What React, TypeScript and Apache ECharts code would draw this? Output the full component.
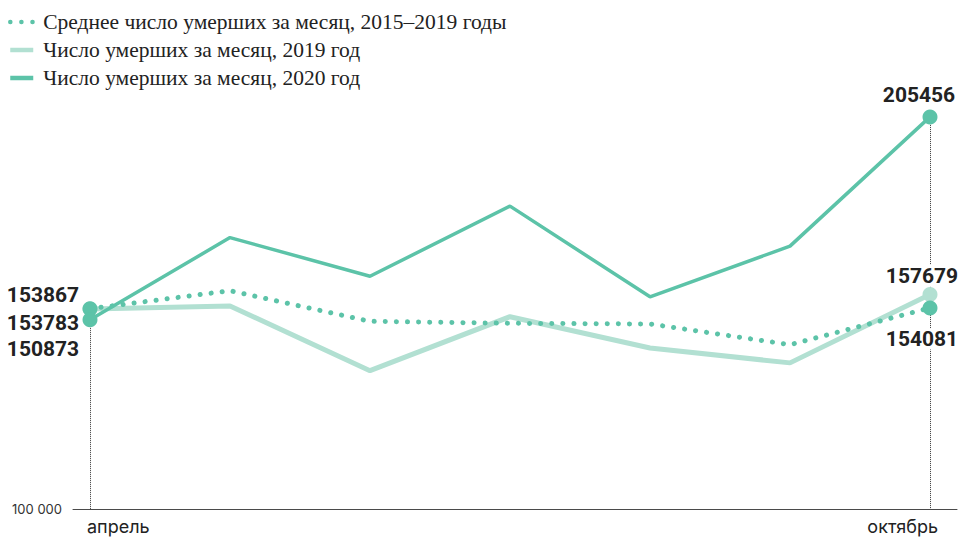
import React, { useEffect, useRef } from "react";
import * as echarts from "echarts";

const months = ["апрель", "май", "июнь", "июль", "август", "сентябрь", "октябрь"];
const avg2015to2019 = [153867, 158710, 150480, 149940, 149760, 144190, 154081];
const deaths2019 = [153783, 154600, 137200, 151720, 143300, 139300, 157679];
const deaths2020 = [150873, 173000, 162600, 181450, 157070, 170700, 205456];
const yTickLabels = ["100 000"];
const seriesNames = [
  "Среднее число умерших за месяц, 2015–2019 годы",
  "Число умерших за месяц, 2019 год",
  "Число умерших за месяц, 2020 год",
];

const DARK = "#5cc3a8";
const LIGHT = "#b2e0d2";
const TEXT = "#222222";
const Y_MIN = 100000;

const labelStyle = {
  fontFamily: "Roboto",
  fontWeight: 700,
  fontSize: 21,
  color: TEXT,
  position: "inside",
  backgroundColor: "#ffffff",
  padding: [0, 2],
};

function buildData(values: number[], color: string, offsets: [number, number][]) {
  const last = values.length - 1;
  return values.map((v, i) => {
    if (i === 0 || i === last) {
      const off = i === 0 ? offsets[0] : offsets[1];
      return {
        value: [i, v],
        symbol: "circle",
        symbolSize: 15,
        itemStyle: { color },
        label: { show: true, ...labelStyle, offset: off, formatter: String(v) },
      };
    }
    return { value: [i, v] };
  });
}

export default function App() {
  const ref = useRef<HTMLDivElement>(null);
  useEffect(() => {
    document.body.style.margin = "0";
    const chart = echarts.init(ref.current!, null, { renderer: "svg" });
    const last = months.length - 1;
    chart.setOption({
      animation: false,
      backgroundColor: "#ffffff",
      legend: {
        data: seriesNames,
        orient: "vertical",
        left: 8,
        top: 11,
        padding: 0,
        itemWidth: 23,
        itemHeight: 14,
        itemGap: 6,
        itemStyle: { opacity: 0 },
        lineStyle: { width: 4.5 },
        textStyle: {
          fontFamily: "'Liberation Serif', serif",
          fontSize: 21.5,
          color: TEXT,
          padding: [0, 0, 0, 5],
        },
        selectedMode: false,
      },
      grid: { left: 73, right: 16, top: 100, bottom: 30 },
      xAxis: [
        {
          type: "value",
          min: -17 / 140,
          max: 6 + 27 / 140,
          position: "bottom",
          axisLine: { show: true, lineStyle: { color: "#4a4a4a", width: 1 } },
          axisTick: { show: false },
          splitLine: { show: false },
          axisLabel: {
            customValues: [0],
            formatter: (v: number) => months[Math.round(v)],
            align: "left",
            margin: 8,
            padding: [0, 0, 0, -3],
            fontFamily: "Inter",
            fontSize: 18,
            color: TEXT,
          },
        },
        {
          type: "value",
          min: -17 / 140,
          max: 6 + 27 / 140,
          position: "bottom",
          axisLine: { show: false },
          axisTick: { show: false },
          splitLine: { show: false },
          axisLabel: {
            customValues: [last],
            formatter: (v: number) => months[Math.round(v)],
            align: "right",
            margin: 8,
            padding: [0, -8, 0, 0],
            fontFamily: "Inter",
            fontSize: 18,
            color: TEXT,
          },
        },
      ],
      yAxis: {
        type: "value",
        min: Y_MIN,
        max: 210000,
        axisLine: { show: false },
        axisTick: { show: false },
        splitLine: { show: false },
        axisLabel: {
          customValues: [Y_MIN],
          formatter: () => yTickLabels[0],
          margin: 11,
          fontFamily: "Inter",
          fontSize: 13,
          color: "#333333",
        },
      },
      series: [
        {
          name: seriesNames[1],
          type: "line",
          symbol: "none",
          showSymbol: true,
          color: LIGHT,
          lineStyle: { color: LIGHT, width: 5 },
          data: buildData(deaths2019, LIGHT, [[-47, 14], [-8, -19]]),
          z: 2,
        },
        {
          name: seriesNames[0],
          type: "line",
          symbol: "none",
          showSymbol: true,
          color: DARK,
          lineStyle: { color: DARK, width: 5, type: [0.1, 11], cap: "round" },
          data: buildData(avg2015to2019, DARK, [[-47, -14], [-8, 31]]),
          z: 3,
        },
        {
          name: seriesNames[2],
          type: "line",
          symbol: "none",
          showSymbol: true,
          color: DARK,
          lineStyle: { color: DARK, width: 3.5 },
          data: buildData(deaths2020, DARK, [[-47, 29], [-11, -22]]),
          z: 4,
          markLine: {
            silent: true,
            symbol: ["none", "none"],
            z: 1,
            label: { show: false },
            lineStyle: { color: "#333333", width: 1, type: "dotted" },
            data: [
              [{ coord: [0, deaths2020[0]] }, { coord: [0, Y_MIN] }],
              [{ coord: [last, deaths2020[last]] }, { coord: [last, Y_MIN] }],
            ],
          },
        },
      ],
    });
    return () => chart.dispose();
  }, []);
  return <div ref={ref} style={{ width: 973, height: 539 }} />;
}
